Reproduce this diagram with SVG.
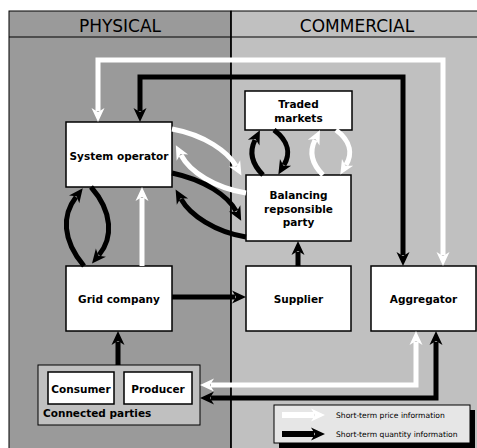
<svg xmlns="http://www.w3.org/2000/svg" width="477" height="448" viewBox="0 0 477 448">
<defs>
<style>
.box{fill:#fff;stroke:#000;stroke-width:1.5}
.lbl{font-family:"DejaVu Sans","Open Sans",sans-serif;font-weight:bold;font-size:10.5px;text-anchor:middle;fill:#000}
.hdr{font-family:"DejaVu Sans","Open Sans",sans-serif;font-size:17px;text-anchor:middle;fill:#000}
.leg{font-family:"DejaVu Sans","Open Sans",sans-serif;font-size:7.6px;fill:#000}
.w{fill:none;stroke:#fff;stroke-width:5}
.k{fill:none;stroke:#000;stroke-width:5}
.wa{marker-end:url(#mw)}
.ka{marker-end:url(#mk)}
.wb{marker-start:url(#mw);marker-end:url(#mw)}
.kb{marker-start:url(#mk);marker-end:url(#mk)}
</style>
<marker id="mw" markerUnits="userSpaceOnUse" orient="auto-start-reverse" markerWidth="20" markerHeight="20" refX="4" refY="8" viewBox="0 0 20 16" overflow="visible">
<path d="M15,8 L1,1.5 L5,8 L1,14.5 Z" fill="#fff"/>
</marker>
<marker id="mk" markerUnits="userSpaceOnUse" orient="auto-start-reverse" markerWidth="20" markerHeight="20" refX="4" refY="8" viewBox="0 0 20 16" overflow="visible">
<path d="M15,8 L1,1.5 L5,8 L1,14.5 Z" fill="#000"/>
</marker>
</defs>

<g id="background">
<rect x="9" y="11" width="222" height="450" fill="#9a9a9a" stroke="#000" stroke-width="1"/>
<rect x="231" y="11" width="260" height="450" fill="#c0c0c0" stroke="#000" stroke-width="1"/>
<line x1="9" y1="37" x2="491" y2="37" stroke="#000" stroke-width="1"/>
<line x1="231" y1="11" x2="231" y2="461" stroke="#000" stroke-width="1.5"/>
<text class="hdr" x="120" y="32">PHYSICAL</text>
<text class="hdr" x="357" y="32">COMMERCIAL</text>
</g>

<g id="system-operator">
<rect class="box" x="66" y="122" width="106" height="65"/>
<text class="lbl" x="119" y="160">System operator</text>
</g>
<g id="traded-markets">
<rect class="box" x="245" y="91" width="107" height="39"/>
<text class="lbl" x="298.5" y="108">Traded</text>
<text class="lbl" x="298.5" y="122">markets</text>
</g>
<g id="balancing-responsible-party">
<rect class="box" x="246" y="175" width="105" height="66"/>
<text class="lbl" x="298.5" y="199">Balancing</text>
<text class="lbl" x="298.5" y="212.5">repsonsible</text>
<text class="lbl" x="298.5" y="226">party</text>
</g>
<g id="grid-company">
<rect class="box" x="66" y="266" width="106" height="65"/>
<text class="lbl" x="119" y="302.5">Grid company</text>
</g>
<g id="supplier">
<rect class="box" x="246" y="266" width="105" height="65"/>
<text class="lbl" x="298.5" y="302.5">Supplier</text>
</g>
<g id="aggregator">
<rect class="box" x="371" y="266" width="105" height="65"/>
<text class="lbl" x="423.5" y="302.5">Aggregator</text>
</g>
<g id="connected-parties">
<rect x="38" y="365" width="162" height="60" fill="#c0c0c0" stroke="#000" stroke-width="1"/>
<text class="lbl" x="43" y="417" style="text-anchor:start">Connected parties</text>
</g>
<g id="consumer">
<rect class="box" x="48" y="372" width="66" height="32"/>
<text class="lbl" x="81" y="392.5">Consumer</text>
</g>
<g id="producer">
<rect class="box" x="124" y="372" width="68" height="32"/>
<text class="lbl" x="158" y="392.5">Producer</text>
</g>

<g id="connectors">
<path class="w wb" d="M443,255 L443,60 L98,60 L98,111"/>
<path class="k kb" d="M140,111 L140,77 L403,77 L403,255"/>
<path class="k ka" d="M84,266 C62,240 62,215 76,197"/>
<path class="k ka" d="M91,187 C113,212 113,238 99,255"/>
<path class="w wa" d="M142,266 L142,198"/>
<path class="w wa" d="M172,129 C205,135 228,152 236,166"/>
<path class="w wa" d="M246,193 C215,188 190,172 181,155"/>
<path class="k ka" d="M172,173 C205,180 228,196 236,211"/>
<path class="k ka" d="M246,237 C215,232 190,215 181,199"/>
<path class="k ka" d="M263,175 C250,162 250,150 255,140"/>
<path class="k ka" d="M274,130 C290,142 290,155 284,165"/>
<path class="w wa" d="M323,175 C310,162 310,150 315,140"/>
<path class="w wa" d="M336,130 C352,142 352,155 346,165"/>
<path class="k ka" d="M298,266 L298,252"/>
<path class="k ka" d="M172,297 L235,297"/>
<path class="k ka" d="M118,365 L118,342"/>
<path class="w wb" d="M416,342 L416,385 L211,385"/>
<path class="k kb" d="M436,342 L436,398 L211,398"/>
</g>

<g id="legend">
<rect x="279" y="410" width="196" height="38" fill="#000"/>
<rect x="274" y="405" width="196" height="38" fill="#e6e6e6" stroke="#000" stroke-width="1"/>
<path class="w wa" d="M282,415 L314,415" style="stroke-width:6"/>
<path class="k ka" d="M282,434 L314,434" style="stroke-width:6"/>
<text class="leg" x="336" y="417.5">Short-term price information</text>
<text class="leg" x="336" y="436.5">Short-term quantity information</text>
</g>
</svg>
